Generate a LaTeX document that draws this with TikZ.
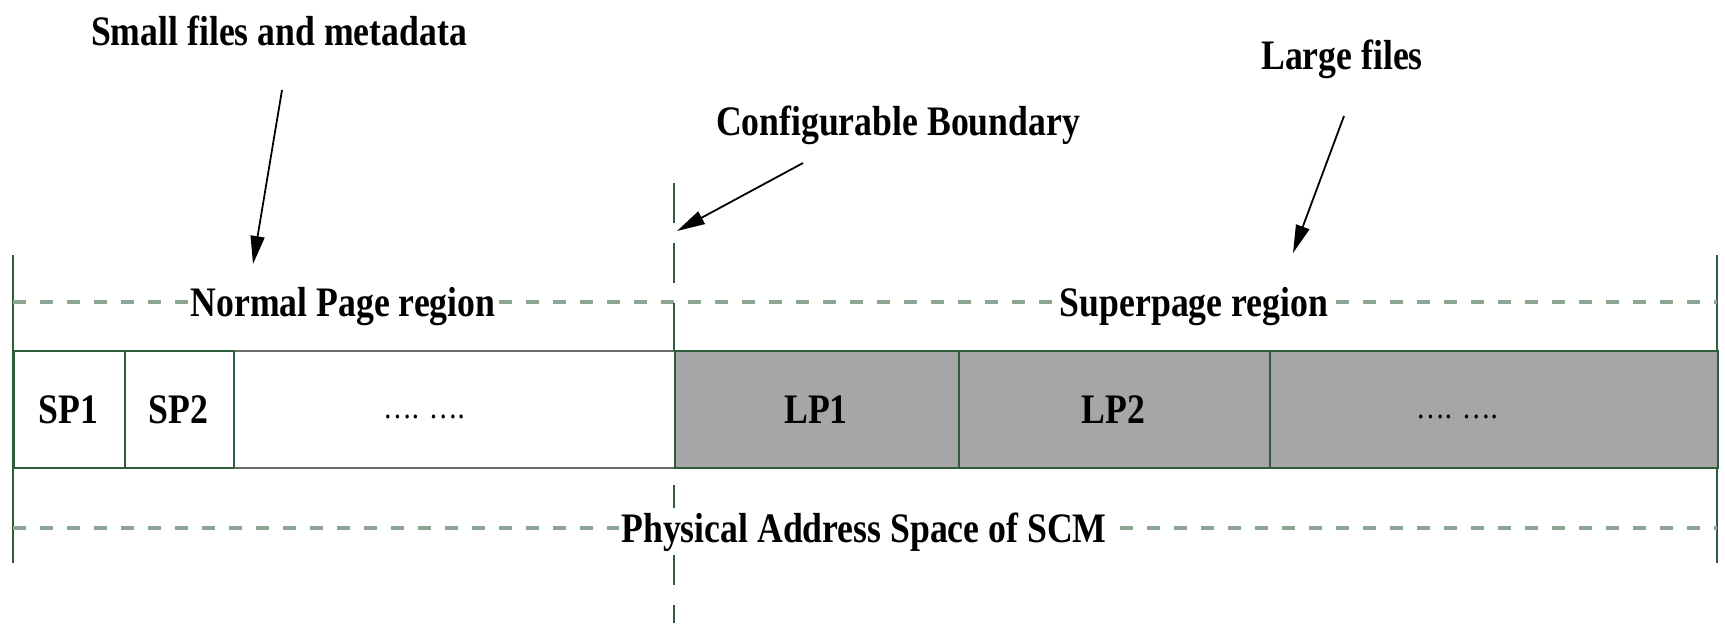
\documentclass[tikz,border=0pt]{standalone}
\usepackage{fontspec}
\setmainfont{Liberation Serif}
\usetikzlibrary{arrows.meta}
\definecolor{dashg}{HTML}{8DA694}
\definecolor{lineg}{HTML}{2E5D3C}
\definecolor{cellg}{HTML}{A6A6A6}
\definecolor{edgegray}{HTML}{6A6A6A}
\newcommand{\cond}[1]{\scalebox{0.85}[1]{#1}}
\begin{document}
\begin{tikzpicture}[x=0.5pt,y=-0.5pt,
  lbl/.style={font=\fontsize{21}{24}\selectfont\bfseries, inner sep=0pt, anchor=base},
  onlinelbl/.style={lbl, fill=white, inner xsep=1pt, inner ysep=2pt},
  regdash/.style={dashg, line width=2.2pt, dash pattern=on 6.5pt off 7pt},
  bound/.style={lineg, line width=1pt, dash pattern=on 20pt off 10pt},
  edgeline/.style={lineg, line width=1pt},
  cellw/.style={draw=lineg, line width=1pt, fill=white, inner sep=0pt, minimum height=58.5pt, anchor=west},
  cellgr/.style={draw=lineg, line width=1pt, fill=cellg, inner sep=0pt, minimum height=58.5pt, anchor=west},
  dotlbl/.style={font=\fontsize{17}{19}\selectfont, inner sep=0pt, anchor=base},
  arr/.style={line width=0.9pt, -{Triangle[length=14pt,width=7pt]}},
]
\useasboundingbox (0,0) rectangle (1725,623);

% outer solid verticals
\coordinate (lt) at (13,255); \coordinate (lb) at (13,563);
\coordinate (rt) at (1717,255); \coordinate (rb) at (1717,563);
\draw[edgeline] (lt) -- (lb);
\draw[edgeline] (rt) -- (rb);

% dashed region lines
\coordinate (d1l) at (13,302); \coordinate (d1r) at (1717,302);
\coordinate (d2l) at (13,528); \coordinate (d2r) at (1717,528);
\draw[regdash] (d1l) -- (d1r);
\draw[regdash] (d2l) -- (d2r);

% cells
\node[draw=edgegray, line width=1.2pt, fill=white, inner sep=0pt, minimum height=58.5pt, minimum width=220.5pt, anchor=west] (dots1) at (233,409.5) {};
\node[cellw, minimum width=55.5pt] (sp1) at (13,409.5) {};
\node[cellw, minimum width=54.5pt] (sp2) at (124,409.5) {};
\node[cellgr, minimum width=142pt] (lp1) at (674,409.5) {};
\node[cellgr, minimum width=155.5pt] (lp2) at (958,409.5) {};
\node[cellgr, minimum width=224pt] (dots2) at (1269,409.5) {};

\node[lbl] (tsp1) at (68.5,423) {\cond{SP1}};
\node[lbl] (tsp2) at (178.5,423) {\cond{SP2}};
\node[dotlbl] (td1) at (424,418) {\cond{…. ….}};
\node[lbl] (tlp1) at (816,423) {\cond{LP1}};
\node[lbl] (tlp2) at (1113.5,423) {\cond{LP2}};
\node[dotlbl] (td2) at (1457,418) {\cond{…. ….}};

% configurable boundary
\coordinate (b1) at (674,183); \coordinate (b2) at (674,303);
\coordinate (b3) at (674,351); \coordinate (b4) at (674,485);
\coordinate (b5) at (674,623);
\draw[bound] (b1) -- (b2);
\draw[edgeline] (b2) -- (b3);
\draw[bound] (b4) -- (b5);

% region labels
\node[onlinelbl] (npr) at (343,316) {\cond{Normal Page region}};
\node[onlinelbl] (spr) at (1194,316) {\cond{Superpage region}};
\node[onlinelbl] (pas) at (864,542) {\cond{Physical Address Space of SCM}};

% top labels and arrows
\node[lbl] (small) at (279,45) {\cond{Small files and metadata}};
\node[lbl] (conf) at (898,135) {\cond{Configurable Boundary}};
\node[lbl] (large) at (1342,69) {\cond{Large files}};

\coordinate (a1s) at (282,90);  \coordinate (a1e) at (253,264);
\coordinate (a2s) at (803,163); \coordinate (a2e) at (677,231);
\coordinate (a3s) at (1344,116); \coordinate (a3e) at (1293,253);
\draw[arr] (a1s) -- (a1e);
\draw[arr] (a2s) -- (a2e);
\draw[arr] (a3s) -- (a3e);
\end{tikzpicture}
\end{document}
